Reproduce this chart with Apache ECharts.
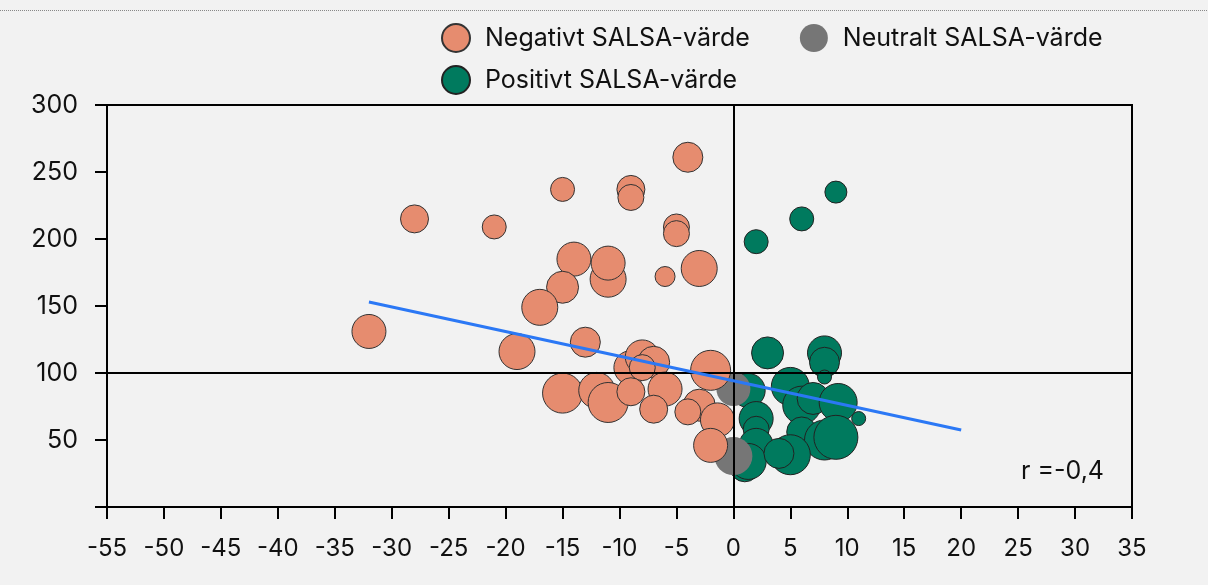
<!DOCTYPE html>
<html>
<head>
<meta charset="utf-8">
<script src="https://cdn.jsdelivr.net/npm/echarts@6/dist/echarts.min.js"></script>
<style>
  html, body { margin: 0; padding: 0; background: #f2f2f2; }
  #chart { width: 1208px; height: 585px; }
</style>
</head>
<body>
<div id="chart"></div>
<script>
// SALSA-värde (x), värde (y), storlek (radie)
var negX = [-9, -32, -28, -21, -15, -9, -4, -5, -5, -14, -11, -11, -6, -3, -15, -17, -13, -19, -9, -8, -7, -8, -2, -15, -12, -11, -9, -6, -7, -3, -4, -1.4, -2];
var negY = [237, 131, 215, 209, 237, 231, 261, 209, 204, 185, 170, 182, 172, 178, 164, 149, 123, 116, 104, 112, 108, 104, 102, 85, 87, 78, 86, 88, 73, 76, 71, 65, 46];
var negS = [14, 17, 14, 12, 12, 13, 15, 13, 13, 17, 18, 17, 10, 18, 16, 18, 15, 18, 17, 17, 16, 13, 20, 20, 18, 20, 14, 17, 14, 16, 13, 17, 17];

var neuX = [0, 0];
var neuY = [88, 38];
var neuS = [17, 19];

var posX = [2, 6, 9, 3, 8, 8, 8, 1.3, 5, 6, 7, 9.2, 11, 2, 2, 6, 8, 9, 2, 1, 1.3, 5, 4];
var posY = [198, 215, 235, 115, 115, 108, 97, 87, 90, 76, 81, 78, 66, 66, 58, 56, 50, 52, 46, 30, 34, 39, 40];
var posS = [12, 12, 11, 16, 17, 15, 7, 17, 19, 19, 16, 19, 7, 17, 13, 15, 20, 22, 17, 15, 18, 20, 15];

// Regressionslinje
var trendX = [-32, 20];
var trendY = [153, 57.5];

var xTicks = { min: -55, max: 35, step: 5 };
var yTicks = { min: 0, max: 300, step: 50 };

function pts(xs, ys, ss) {
    return xs.map(function (x, i) { return [x, ys[i], ss[i]]; });
}

var font = 'Inter';
var legendText = { fontSize: 25, color: '#111', fontFamily: font, padding: [0, 0, 0, 10] };
var chart = echarts.init(document.getElementById('chart'));
var option = {
    backgroundColor: '#f2f2f2',
    animation: false,
    textStyle: { fontFamily: font },
    legend: [
        {
            data: ['Negativt SALSA-värde', 'Neutralt SALSA-värde'],
            left: 436, top: 18,
            icon: 'circle',
            itemWidth: 28, itemHeight: 28, itemGap: 50,
            textStyle: legendText
        },
        {
            data: ['Positivt SALSA-värde'],
            left: 436, top: 60,
            icon: 'circle',
            itemWidth: 28, itemHeight: 28,
            textStyle: legendText
        }
    ],
    grid: {
        left: 107, right: 76, top: 105, bottom: 78,
        show: true, borderColor: '#000', borderWidth: 2,
        backgroundColor: '#f2f2f2'
    },
    xAxis: {
        type: 'value',
        min: xTicks.min, max: xTicks.max, interval: xTicks.step,
        splitLine: { show: false },
        axisLine: { onZero: false, lineStyle: { color: '#000', width: 2 } },
        axisTick: { show: true, length: 12, lineStyle: { color: '#000', width: 2 } },
        axisLabel: { fontSize: 24, color: '#111', margin: 30, fontFamily: font }
    },
    yAxis: {
        type: 'value',
        min: yTicks.min, max: yTicks.max, interval: yTicks.step,
        splitLine: { show: false },
        axisLine: { onZero: false, lineStyle: { color: '#000', width: 2 } },
        axisTick: { show: true, length: 12, lineStyle: { color: '#000', width: 2 } },
        axisLabel: {
            fontSize: 25, color: '#111', margin: 29, fontFamily: font,
            formatter: function (v) { return v === 0 ? '' : v; }
        }
    },
    graphic: [
        {
            type: 'line',
            shape: { x1: 0, y1: 10.5, x2: 1208, y2: 10.5 },
            style: { stroke: '#888', lineWidth: 1, lineDash: [1, 1] }
        },
        {
            type: 'text',
            right: 104, top: 459,
            style: { text: 'r =-0,4', fontSize: 25, fill: '#111', fontFamily: font }
        }
    ],
    series: [
        {
            name: 'Positivt SALSA-värde',
            type: 'scatter',
            data: pts(posX, posY, posS),
            symbolSize: function (d) { return d[2] * 2; },
            itemStyle: { color: '#007a5e', borderColor: '#222', borderWidth: 1, opacity: 1 },
            z: 2
        },
        {
            name: 'Neutralt SALSA-värde',
            type: 'scatter',
            data: pts(neuX, neuY, neuS),
            symbolSize: function (d) { return d[2] * 2; },
            itemStyle: { color: '#767676', borderWidth: 0, opacity: 1 },
            z: 3
        },
        {
            name: 'Negativt SALSA-värde',
            type: 'scatter',
            data: pts(negX, negY, negS),
            symbolSize: function (d) { return d[2] * 2; },
            itemStyle: { color: '#e68c6f', borderColor: '#333', borderWidth: 1, opacity: 1 },
            z: 4
        },
        {
            name: 'trend',
            type: 'line',
            data: trendX.map(function (x, i) { return [x, trendY[i]]; }),
            symbol: 'none',
            lineStyle: { color: '#2b78f5', width: 3 },
            z: 6,
            markLine: {
                silent: true,
                symbol: 'none',
                label: { show: false },
                lineStyle: { color: '#000', width: 2, type: 'solid' },
                data: [{ xAxis: 0 }, { yAxis: 100 }]
            }
        }
    ]
};
chart.setOption(option);

window.addEventListener('resize', function () {
    chart.resize();
});
</script>
</body>
</html>
